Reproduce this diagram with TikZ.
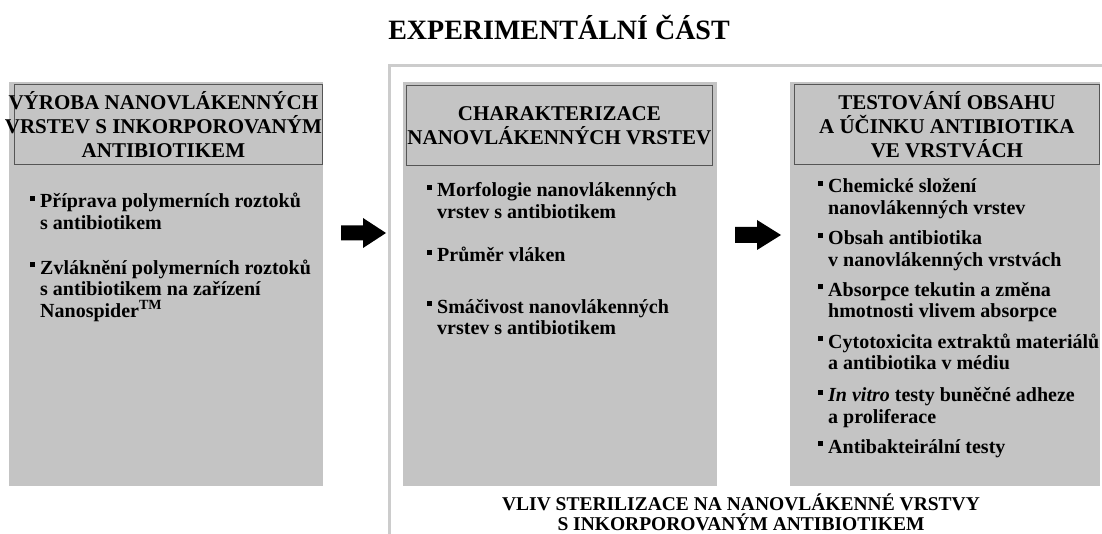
\documentclass[tikz,border=0pt]{standalone}
\usepackage{fontspec}
\setmainfont{Liberation Serif}
\usepackage{xcolor}
\usepackage{tikz}

\definecolor{boxgray}{RGB}{196,196,196}
\definecolor{framegray}{RGB}{204,204,204}
\definecolor{headline}{RGB}{85,85,85}

% square bullet hung left of the first line
\newcommand{\sqb}{\llap{\rule[7pt]{5pt}{5pt}\hspace{5pt}}}

\begin{document}
\begin{tikzpicture}[x=1pt,y=-1pt,
  panel/.style={fill=boxgray,draw=none,anchor=north west,inner sep=0pt},
  headbox/.style={draw=headline,line width=0.8pt,fill=boxgray,anchor=north west,inner sep=0pt,minimum height=80},
  headtext/.style={font=\fontsize{21}{24}\selectfont\bfseries,align=center,inner sep=0pt},
  item/.style={font=\fontsize{20}{21.5}\selectfont\bfseries,align=left,anchor=base west,inner sep=0pt},
  bigarrow/.style={fill=black}]
  \useasboundingbox (0,0) rectangle (1102,534);

  \node[font=\fontsize{28}{30}\selectfont\bfseries,anchor=base] (title) at (559,40) {EXPERIMENTÁLNÍ ČÁST};

  % frame round the last two panels
  \draw[framegray,line width=3pt] (389,534) -- (389,66) -- (1102,66);

  \node[panel,minimum width=314,minimum height=404] (prep) at (9,82) {};
  \node[panel,minimum width=314,minimum height=404] (char) at (403,82) {};
  \node[panel,minimum width=310,minimum height=404] (test) at (790,82) {};

  \node[headbox,minimum width=308] (prephead) at (14,84) {};
  \node[headbox,minimum width=306] (charhead) at (406,85) {};
  \node[headbox,minimum width=305] (testhead) at (794,84) {};

  \node[headtext,xshift=-5] (preptitle) at (prephead.center) {VÝROBA NANOVLÁKENNÝCH\\VRSTEV S INKORPOROVANÝM\\ANTIBIOTIKEM};
  \node[headtext] (chartitle) at (charhead.center) {CHARAKTERIZACE\\NANOVLÁKENNÝCH VRSTEV};
  \node[headtext] (testtitle) at (testhead.center) {TESTOVÁNÍ OBSAHU\\A ÚČINKU ANTIBIOTIKA\\VE VRSTVÁCH};

  % items are placed by the baseline of their last line
  \node[item] (prep1) at (40,229.5) {\sqb Příprava polymerních roztoků\\s antibiotikem};
  \node[item] (prep2) at (40,317) {\sqb Zvláknění polymerních roztoků\\s antibiotikem na zařízení\\Nanospider\textsuperscript{TM}};

  \node[item] (char1) at (437,218.5) {\sqb Morfologie nanovlákenných\\vrstev s antibiotikem};
  \node[item] (char2) at (437,262) {\sqb Průměr vláken};
  \node[item] (char3) at (437,334.5) {\sqb Smáčivost nanovlákenných\\vrstev s antibiotikem};

  \node[item] (test1) at (828,214.5) {\sqb Chemické složení\\nanovlákenných vrstev};
  \node[item] (test2) at (828,266.5) {\sqb Obsah antibiotika\\v nanovlákenných vrstvách};
  \node[item] (test3) at (828,318) {\sqb Absorpce tekutin a změna\\hmotnosti vlivem absorpce};
  \node[item] (test4) at (828,369.5) {\sqb Cytotoxicita extraktů materiálů\\a antibiotika v médiu};
  \node[item] (test5) at (828,423) {\sqb \textit{In vitro} testy buněčné adheze\\a proliferace};
  \node[item] (test6) at (828,453) {\sqb Antibakteirální testy};

  % block arrows between the panels
  \fill[bigarrow] (341,225.5) -- (363,225.5) -- (363,218) -- (386,233) -- (363,248) -- (363,240.5) -- (341,240.5) -- cycle;
  \fill[bigarrow] (735,227) -- (757,227) -- (757,220) -- (781,235) -- (757,250) -- (757,243) -- (735,243) -- cycle;

  \node[font=\fontsize{19.5}{20}\selectfont\bfseries,align=center,anchor=base] (steril) at (741,530) {VLIV STERILIZACE NA NANOVLÁKENNÉ VRSTVY\\S INKORPOROVANÝM ANTIBIOTIKEM};
\end{tikzpicture}
\end{document}
